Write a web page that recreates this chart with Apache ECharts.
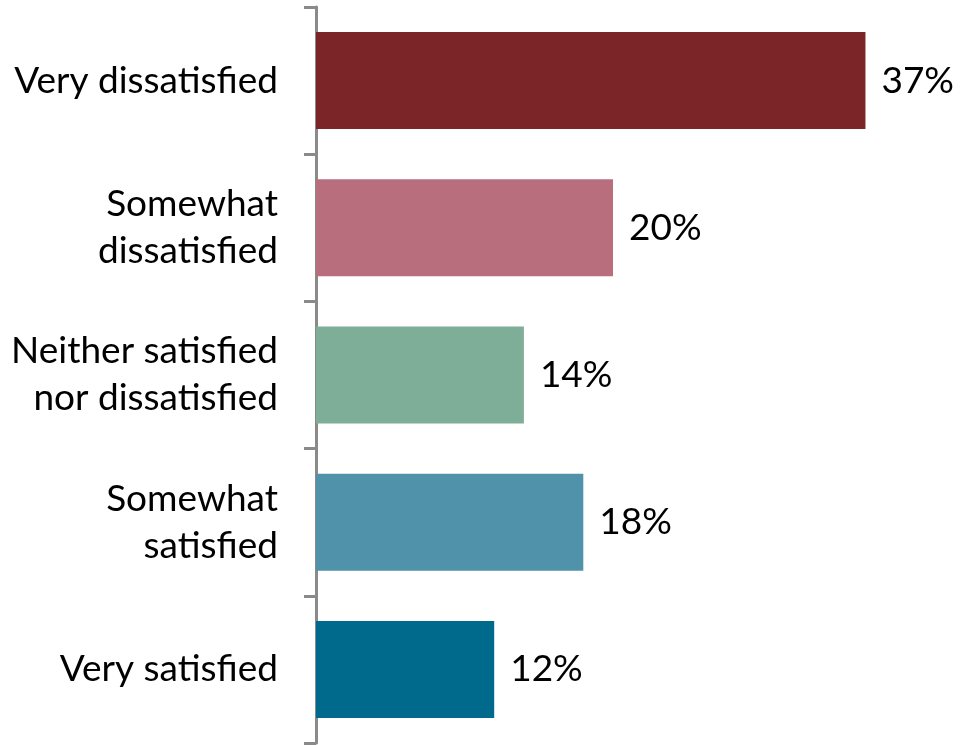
<!DOCTYPE html>
<html>
<head>
<meta charset="utf-8">
<script src="https://cdn.jsdelivr.net/npm/echarts@6/dist/echarts.min.js"></script>
<style>
  html, body { margin: 0; padding: 0; background: #ffffff; }
  #chart { width: 966px; height: 745px; }
</style>
</head>
<body>
<div id="chart"></div>
<script>
// Satisfaction levels, top to bottom
const categories = [
  'Very dissatisfied',
  'Somewhat\ndissatisfied',
  'Neither satisfied\nnor dissatisfied',
  'Somewhat\nsatisfied',
  'Very satisfied'
];
// Share of respondents, percent
const values = [37, 20, 14, 18, 12];
// One colour per satisfaction level
const barColors = ['#7B2528', '#B86E7C', '#7FAE98', '#4F92A9', '#006A8C'];

const chart = echarts.init(document.getElementById('chart'), null, { renderer: 'canvas' });
const fontFamily = 'Lato, "Open Sans", sans-serif';

chart.setOption({
  backgroundColor: '#ffffff',
  animation: false,
  grid: { left: 316, right: 56, top: 7, bottom: 2, containLabel: false },
  xAxis: {
    type: 'value',
    min: 0,
    max: 40,
    show: false
  },
  yAxis: {
    type: 'category',
    inverse: true,
    data: categories,
    axisLine: { show: true, lineStyle: { color: '#8A8A8A', width: 3 } },
    axisTick: { show: true, length: 12, lineStyle: { color: '#8A8A8A', width: 3 } },
    axisLabel: {
      margin: 38,
      color: '#000000',
      fontSize: 37,
      fontFamily: fontFamily,
      lineHeight: 47,
      align: 'right'
    },
    splitLine: { show: false }
  },
  series: [{
    type: 'bar',
    barWidth: 97,
    data: values.map((v, i) => ({ value: v, itemStyle: { color: barColors[i] } })),
    label: {
      show: true,
      position: 'right',
      distance: 16,
      formatter: p => p.value + '%',
      color: '#000000',
      fontSize: 37,
      fontFamily: fontFamily
    }
  }]
});
</script>
</body>
</html>
